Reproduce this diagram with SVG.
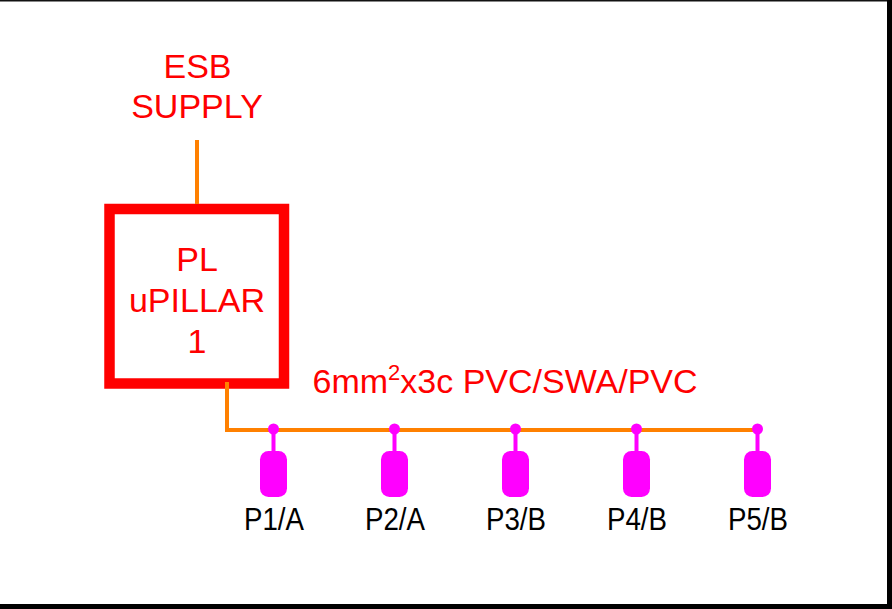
<svg xmlns="http://www.w3.org/2000/svg" width="892" height="609" viewBox="0 0 892 609">
<style>
.wire{fill:none;stroke:#ff8000;stroke-width:4}
.stub{stroke:#ff00ff;stroke-width:4}
.dot,.pad{fill:#ff00ff}
.red{fill:#ff0000;font-family:"Liberation Sans",Arial,sans-serif;font-size:34px;text-anchor:middle}
.lbl{fill:#000;font-family:"Liberation Sans",Arial,sans-serif;font-size:32px;text-anchor:middle}
</style>
<defs>
<g id="lamp">
<line class="stub" x1="0" y1="0" x2="0" y2="24"/>
<circle class="dot" cx="0" cy="0" r="5.5"/>
<rect class="pad" x="-13.5" y="22" width="27" height="46" rx="8.5"/>
</g>
</defs>
<rect width="892" height="609" fill="#fff"/>
<g id="frame">
<rect x="0" y="0" width="892" height="1.5" fill="#111"/>
<rect x="887" y="0" width="5" height="609" fill="#000"/>
<rect x="0" y="604" width="892" height="5" fill="#000"/>
</g>
<g id="esb-supply">
<text class="red" x="197.500" y="77.500">ESB</text>
<text class="red" x="197" y="118">SUPPLY</text>
</g>
<g id="pillar">
<rect x="109.500" y="209" width="174.500" height="174.500" fill="none" stroke="#ff0000" stroke-width="10.500"/>
<text class="red" x="197" y="271">PL</text>
<text class="red" x="197" y="312">uPILLAR</text>
<text class="red" x="197" y="353">1</text>
</g>
<g id="connectors">
<line class="wire" x1="197" y1="140" x2="197" y2="204"/>
<path class="wire" d="M227 382V430H757"/>
</g>
<g id="cable-label">
<text class="red" x="312.500" y="392.500" style="text-anchor:start">6mm<tspan dy="-13" font-size="22">2</tspan><tspan dy="13">x3c PVC/SWA/PVC</tspan></text>
</g>
<g id="p1"><use href="#lamp" x="273.500" y="429"/><text class="lbl" x="274" y="530" textLength="60" lengthAdjust="spacingAndGlyphs">P1/A</text></g>
<g id="p2"><use href="#lamp" x="394.500" y="429"/><text class="lbl" x="395" y="530" textLength="60" lengthAdjust="spacingAndGlyphs">P2/A</text></g>
<g id="p3"><use href="#lamp" x="515.500" y="429"/><text class="lbl" x="516" y="530" textLength="60" lengthAdjust="spacingAndGlyphs">P3/B</text></g>
<g id="p4"><use href="#lamp" x="636.500" y="429"/><text class="lbl" x="637" y="530" textLength="60" lengthAdjust="spacingAndGlyphs">P4/B</text></g>
<g id="p5"><use href="#lamp" x="757.500" y="429"/><text class="lbl" x="758" y="530" textLength="60" lengthAdjust="spacingAndGlyphs">P5/B</text></g>
</svg>
